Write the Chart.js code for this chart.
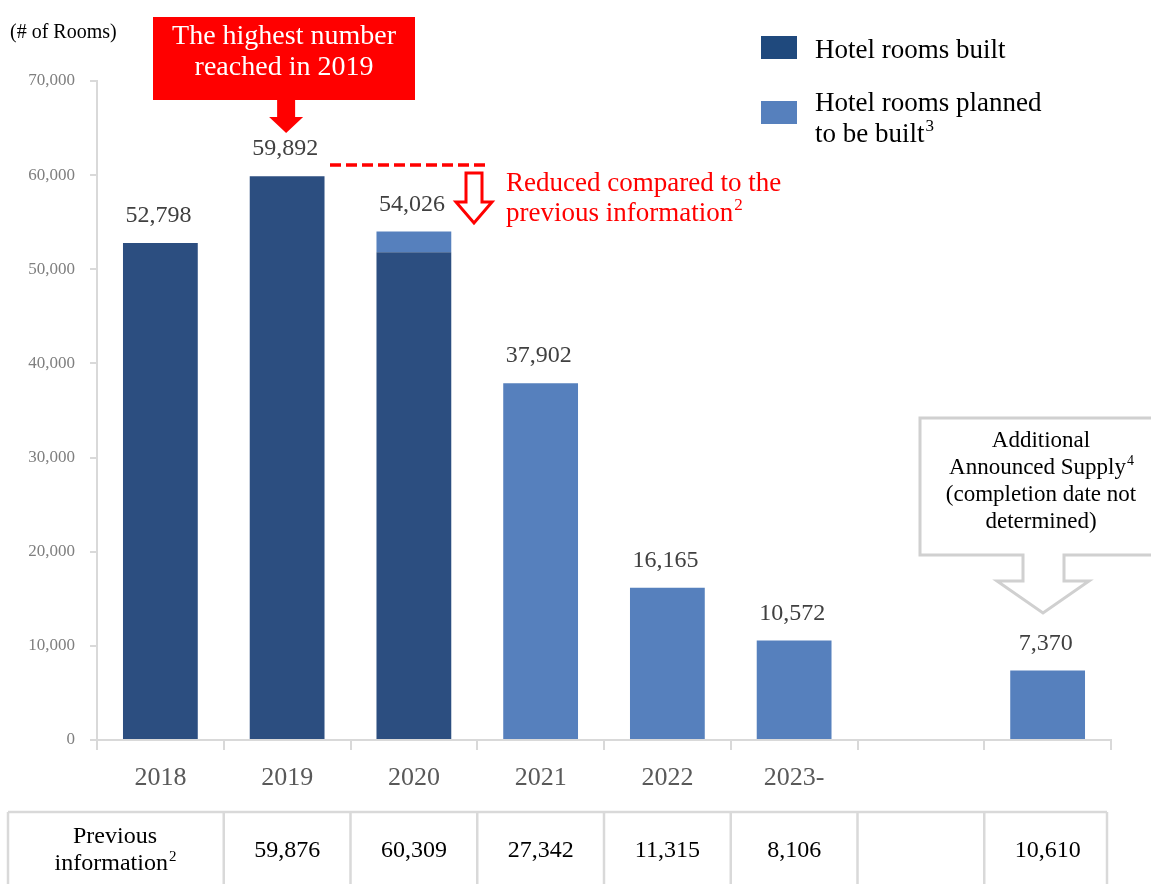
<!DOCTYPE html>
<html>
<head>
<meta charset="utf-8">
<script src="https://cdn.jsdelivr.net/npm/chart.js@4/dist/chart.umd.min.js"></script>
<style>
  html, body { margin: 0; padding: 0; background: #fff; }
  canvas { display: block; }
</style>
</head>
<body>
<canvas id="chart" width="1151" height="884"></canvas>
<script>
const categories = ['2018', '2019', '2020', '2021', '2022', '2023-', '', ''];
const builtRooms = [52798, 59892, 51800, null, null, null, null, null];
const plannedRooms = [null, null, 2226, 37902, 16165, 10572, null, 7370];
const totalRooms = [52798, 59892, 54026, 37902, 16165, 10572, null, 7370];
const previousInfo = [null, 59876, 60309, 27342, 11315, 8106, null, 10610];
const yMax = 70000;
const yStep = 10000;

const FONT = '"Liberation Serif", "DejaVu Serif", serif';
const DARK = '#2c4e80';
const LIGHT = '#5680bd';
const RED = '#ff0000';
const GRID = '#d9d9d9';

const fmt = v => v.toLocaleString('en-US');

// text with a small raised footnote number
function supText(ctx, main, sup, x, y, size, align, color) {
  ctx.save();
  ctx.fillStyle = color;
  ctx.textBaseline = 'middle';
  ctx.textAlign = 'left';
  ctx.font = size + 'px ' + FONT;
  const w1 = ctx.measureText(main).width;
  ctx.font = Math.round(size * 0.62) + 'px ' + FONT;
  const w2 = sup ? ctx.measureText(sup).width : 0;
  let start = x;
  if (align === 'center') start = x - (w1 + w2) / 2;
  ctx.font = size + 'px ' + FONT;
  ctx.fillText(main, start, y);
  if (sup) {
    ctx.font = Math.round(size * 0.62) + 'px ' + FONT;
    ctx.fillText(sup, start + w1 + 1, y - size * 0.3);
  }
  ctx.restore();
}

const extras = {
  id: 'extras',
  afterDatasetsDraw(chart) {
    const ctx = chart.ctx;
    const xs = chart.scales.x;
    const ys = chart.scales.y;
    const half = (xs.getPixelForValue(1) - xs.getPixelForValue(0)) / 2;

    // value labels on top of bars
    ctx.save();
    ctx.fillStyle = '#404040';
    ctx.font = '24px ' + FONT;
    ctx.textAlign = 'center';
    ctx.textBaseline = 'middle';
    totalRooms.forEach((v, i) => {
      if (v == null) return;
      ctx.fillText(fmt(v), xs.getPixelForValue(i) - 2, ys.getPixelForValue(v) - 27);
    });
    ctx.restore();

    // axis unit
    supText(ctx, '(# of Rooms)', '', 10, 33, 20, 'left', '#000');

    // red callout box for 2019
    const cx = xs.getPixelForValue(1) - 1;
    ctx.save();
    ctx.fillStyle = RED;
    ctx.fillRect(153, 17, 262, 83);
    ctx.beginPath();
    ctx.moveTo(cx - 9, 100);
    ctx.lineTo(cx + 9, 100);
    ctx.lineTo(cx + 9, 117);
    ctx.lineTo(cx + 17, 117);
    ctx.lineTo(cx, 133);
    ctx.lineTo(cx - 17, 117);
    ctx.lineTo(cx - 9, 117);
    ctx.closePath();
    ctx.fill();
    ctx.restore();
    supText(ctx, 'The highest number', '', 284, 37, 28, 'center', '#fff');
    supText(ctx, 'reached in 2019', '', 284, 68, 28, 'center', '#fff');

    // dashed reference line and hollow arrow
    ctx.save();
    ctx.strokeStyle = RED;
    ctx.lineWidth = 3.5;
    ctx.setLineDash([11, 5]);
    ctx.beginPath();
    ctx.moveTo(330, 165);
    ctx.lineTo(485, 165);
    ctx.stroke();
    ctx.setLineDash([]);
    ctx.lineWidth = 3;
    ctx.fillStyle = '#fff';
    ctx.beginPath();
    ctx.moveTo(466, 173);
    ctx.lineTo(482, 173);
    ctx.lineTo(482, 202);
    ctx.lineTo(492, 202);
    ctx.lineTo(474, 223);
    ctx.lineTo(456, 202);
    ctx.lineTo(466, 202);
    ctx.closePath();
    ctx.fill();
    ctx.stroke();
    ctx.restore();
    supText(ctx, 'Reduced compared to the', '', 506, 184, 27, 'left', RED);
    supText(ctx, 'previous information', '2', 506, 214, 27, 'left', RED);

    // legend
    ctx.save();
    ctx.fillStyle = '#1f497d';
    ctx.fillRect(761, 36, 36, 23);
    ctx.fillStyle = LIGHT;
    ctx.fillRect(761, 101, 36, 23);
    ctx.restore();
    supText(ctx, 'Hotel rooms built', '', 815, 51, 27, 'left', '#000');
    supText(ctx, 'Hotel rooms planned', '', 815, 104, 27, 'left', '#000');
    supText(ctx, 'to be built', '3', 815, 135, 27, 'left', '#000');

    // grey callout for the undated supply
    ctx.save();
    ctx.strokeStyle = '#d0d0d0';
    ctx.fillStyle = '#fff';
    ctx.lineWidth = 3;
    ctx.beginPath();
    ctx.moveTo(920, 418);
    ctx.lineTo(1160, 418);
    ctx.lineTo(1160, 555);
    ctx.lineTo(1064, 555);
    ctx.lineTo(1064, 581);
    ctx.lineTo(1089, 581);
    ctx.lineTo(1043, 613);
    ctx.lineTo(997, 581);
    ctx.lineTo(1023, 581);
    ctx.lineTo(1023, 555);
    ctx.lineTo(920, 555);
    ctx.closePath();
    ctx.fill();
    ctx.stroke();
    ctx.restore();
    supText(ctx, 'Additional', '', 1041, 441, 23, 'center', '#000');
    supText(ctx, 'Announced Supply', '4', 1041, 468, 23, 'center', '#000');
    supText(ctx, '(completion date not', '', 1041, 495, 23, 'center', '#000');
    supText(ctx, 'determined)', '', 1041, 522, 23, 'center', '#000');

    // previous information table
    const top = 812;
    ctx.save();
    ctx.strokeStyle = GRID;
    ctx.lineWidth = 2.5;
    ctx.beginPath();
    ctx.moveTo(8, top);
    ctx.lineTo(xs.right - 4, top);
    ctx.moveTo(8, top);
    ctx.lineTo(8, 884);
    for (let i = 1; i <= categories.length; i++) {
      const bx = Math.min(xs.getPixelForValue(i) - half, xs.right - 4);
      ctx.moveTo(bx, top);
      ctx.lineTo(bx, 884);
    }
    ctx.stroke();
    ctx.restore();
    supText(ctx, 'Previous', '', 115, 837, 24, 'center', '#000');
    supText(ctx, 'information', '2', 115, 864, 24, 'center', '#000');
    previousInfo.forEach((v, i) => {
      if (v == null) return;
      supText(ctx, fmt(v), '', xs.getPixelForValue(i), 851, 24, 'center', '#000');
    });
  }
};

new Chart(document.getElementById('chart'), {
  type: 'bar',
  data: {
    labels: categories,
    datasets: [
      {
        label: 'Hotel rooms built',
        data: builtRooms,
        backgroundColor: DARK,
        barPercentage: 0.59,
        categoryPercentage: 1
      },
      {
        label: 'Hotel rooms planned to be built',
        data: plannedRooms,
        backgroundColor: LIGHT,
        barPercentage: 0.59,
        categoryPercentage: 1
      }
    ]
  },
  options: {
    responsive: false,
    animation: false,
    layout: { padding: { top: 81, right: 40, left: 0, bottom: 0 } },
    plugins: {
      legend: { display: false },
      tooltip: { enabled: false }
    },
    scales: {
      x: {
        stacked: true,
        offset: true,
        grid: {
          offset: true,
          drawOnChartArea: false,
          drawTicks: true,
          tickLength: 10,
          color: GRID,
          lineWidth: 2
        },
        border: { display: true, color: GRID, width: 2 },
        ticks: {
          color: '#595959',
          font: { family: FONT, size: 26 },
          padding: 13,
          maxRotation: 0,
          autoSkip: false
        },
        afterFit: s => { s.height = 884 - 740; }
      },
      y: {
        stacked: true,
        min: 0,
        max: yMax,
        grid: {
          drawOnChartArea: false,
          drawTicks: true,
          tickLength: 7,
          color: GRID,
          lineWidth: 2
        },
        border: { display: true, color: GRID, width: 2 },
        ticks: {
          stepSize: yStep,
          color: '#7f7f7f',
          font: { family: FONT, size: 17 },
          padding: 15,
          callback: v => fmt(v)
        },
        afterFit: s => { s.width = 97; }
      }
    }
  },
  plugins: [extras]
});
</script>
</body>
</html>
